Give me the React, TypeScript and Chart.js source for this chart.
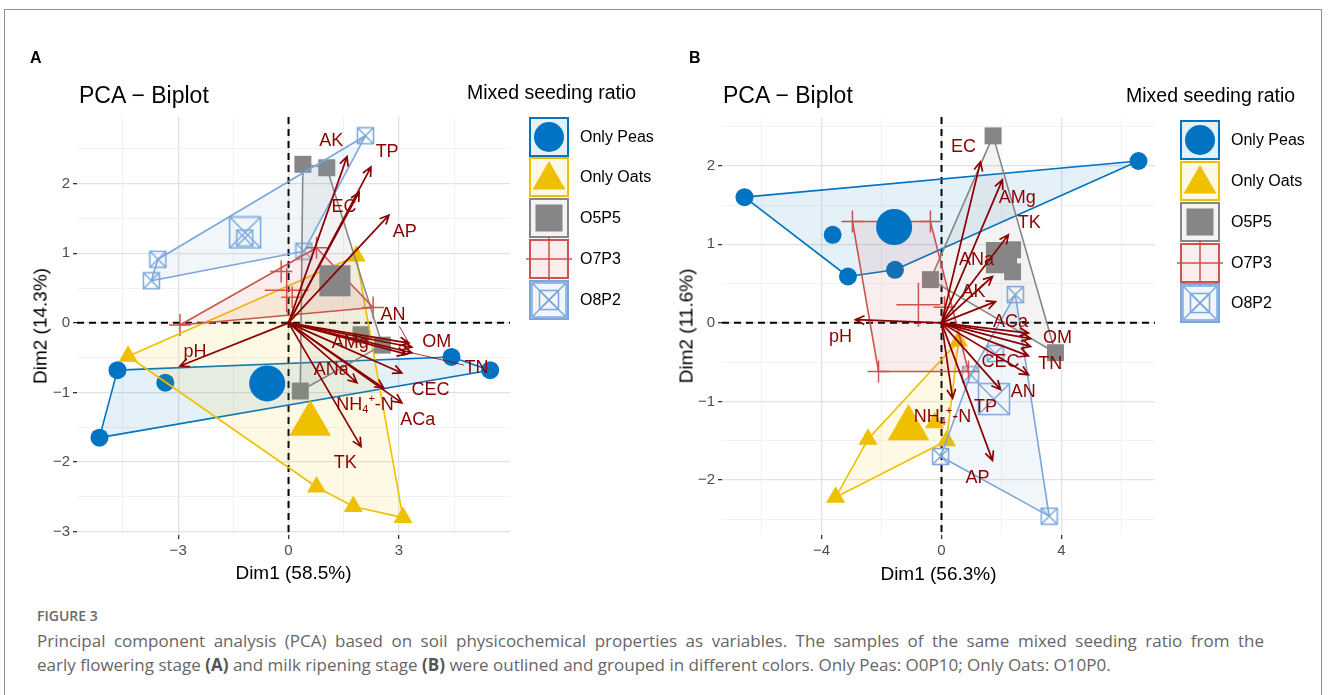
import React, { useEffect, useRef } from "react";
import { Chart, registerables } from "chart.js";

Chart.register(...registerables);

const FONT = "'Liberation Sans', Arial, Helvetica, sans-serif";
const CAPTION_FONT = "'Open Sans', 'Noto Sans', sans-serif";

// ---------- groups ----------
const groupNames = ["Only Peas", "Only Oats", "O5P5", "O7P3", "O8P2"];
const groupColors = ["#0073C2", "#EFC000", "#868686", "#CD534C", "#7AA6DC"];
const groupFills = [
  "rgba(0,115,194,0.10)",
  "rgba(239,192,0,0.10)",
  "rgba(134,134,134,0.10)",
  "rgba(205,83,76,0.10)",
  "rgba(122,166,220,0.10)",
];
const groupShapes = ["circle", "triangle", "rect", "cross", "squareX"];

// ---------- variables ----------
const varNames = ["pH", "AK", "TP", "EC", "AP", "AN", "OM", "TN", "AMg", "CEC", "ANa", "NH4+-N", "ACa", "TK"];

// ---------- Panel A (early flowering stage) ----------
const aPeasX = [-4.65, -5.14, -3.35, 4.43, 5.48];
const aPeasY = [-0.68, -1.65, -0.86, -0.49, -0.68];
const aOatsX = [-4.36, 1.84, 0.76, 1.76, 3.11];
const aOatsY = [-0.48, 0.96, -2.36, -2.64, -2.8];
const aO5P5X = [0.39, 1.04, 0.32, 1.97, 2.55];
const aO5P5Y = [2.28, 2.23, -0.98, -0.17, -0.32];
const aO7P3X = [-2.95, -0.2, 0.76, 2.3, 0.1];
const aO7P3Y = [-0.03, 0.74, 1.08, 0.22, 0.37];
const aO8P2X = [-3.55, -3.73, 0.42, 2.09, -1.19];
const aO8P2Y = [0.915, 0.605, 1.03, 2.69, 1.22];
const aCentX = [-0.58, 0.59, 1.26, -0.05, -1.18];
const aCentY = [-0.87, -1.45, 0.605, 0.47, 1.3];
const aVarX = [-2.95, 1.59, 2.24, 1.92, 2.73, 3.27, 3.35, 3.35, 3.2, 3.08, 1.86, 2.59, 3.08, 1.97];
const aVarY = [-0.62, 2.39, 2.24, 1.88, 1.55, -0.29, -0.35, -0.43, -0.45, -0.72, -0.86, -0.94, -1.15, -1.78];
const aLabX = [-2.54, 1.16, 2.68, 1.51, 3.16, 2.84, 4.03, 5.11, 1.68, 3.86, 1.16, 2.08, 3.51, 1.54];
const aLabY = [-0.42, 2.61, 2.46, 1.66, 1.31, 0.115, -0.27, -0.65, -0.29, -0.965, -0.68, -1.18, -1.4, -2.02];
const aSegments = ["AN", "TN"];
const aXTicks = [-4.5, -3, -1.5, 0, 1.5, 3, 4.5];
const aXMajor = [-3, 0, 3];
const aYTicks = [-3, -2.5, -2, -1.5, -1, -0.5, 0, 0.5, 1, 1.5, 2, 2.5];
const aYMajor = [-3, -2, -1, 0, 1, 2];

// ---------- Panel B (milk ripening stage) ----------
const bPeasX = [-6.57, -3.63, -3.12, -1.55, 6.57];
const bPeasY = [1.6, 1.12, 0.59, 0.675, 2.06];
const bOatsX = [-3.53, -2.45, -0.23, 0.17, 0.57];
const bOatsY = [-2.22, -1.48, -1.27, -1.5, -0.23];
const bO5P5X = [1.72, -0.37, 3.8, 2.37, 2.37];
const bO5P5Y = [2.38, 0.55, -0.38, 0.93, 0.65];
const bO7P3X = [-2.97, -0.37, -2.1, 0.9, 0.1];
const bO7P3Y = [1.29, 1.29, -0.62, -0.62, 0.2];
const bO8P2X = [2.46, 3.59, -0.03, 0.97, 1.79];
const bO8P2Y = [0.36, -2.46, -1.7, -0.66, -0.39];
const bCentX = [-1.58, -1.1, 2.0, -0.77, 1.75];
const bCentY = [1.22, -1.34, 0.83, 0.23, -0.97];
const bVarX = [-2.87, 1.8, 1.97, 1.3, 1.7, 2.9, 2.97, 2.97, 2.03, 2.9, 1.7, 0.37, 2.9, 2.23];
const bVarY = [0.04, 0.27, -0.85, 2.05, -1.75, -0.66, -0.2, -0.3, 1.82, -0.42, 0.59, -0.96, -0.13, 1.12];
const bLabX = [-3.37, 1.07, 1.47, 0.73, 1.2, 2.73, 3.87, 3.63, 2.53, 1.97, 1.17, 0.03, 2.3, 2.93];
const bLabY = [-0.18, 0.39, -1.07, 2.24, -1.97, -0.88, -0.19, -0.53, 1.59, -0.5, 0.8, -1.2, 0.01, 1.27];
const bSegments: string[] = [];
const bXTicks = [-6, -4, -2, 0, 2, 4, 6];
const bXMajor = [-4, 0, 4];
const bYTicks = [-2.5, -2, -1.5, -1, -0.5, 0, 0.5, 1, 1.5, 2, 2.5];
const bYMajor = [-2, -1, 0, 1, 2];

type Panel = {
  left: number;
  yAxisWidth: number;
  padRight: number;
  xMin: number; xMax: number; yMin: number; yMax: number;
  xTicks: number[]; xMajor: number[]; yTicks: number[]; yMajor: number[];
  gx: number[][]; gy: number[][];
  cx: number[]; cy: number[];
  vx: number[]; vy: number[]; lx: number[]; ly: number[];
  segs: string[];
  legendCx: number; legendRows: number[];
};

const panelA: Panel = {
  left: 0, yAxisWidth: 77, padRight: 154,
  xMin: -5.75, xMax: 6.02, yMin: -3.05, yMax: 2.96,
  xTicks: aXTicks, xMajor: aXMajor, yTicks: aYTicks, yMajor: aYMajor,
  gx: [aPeasX, aOatsX, aO5P5X, aO7P3X, aO8P2X],
  gy: [aPeasY, aOatsY, aO5P5Y, aO7P3Y, aO8P2Y],
  cx: aCentX, cy: aCentY,
  vx: aVarX, vy: aVarY, lx: aLabX, ly: aLabY, segs: aSegments,
  legendCx: 549, legendRows: [137, 177, 218, 259, 300],
};

const panelB: Panel = {
  left: 664, yAxisWidth: 58, padRight: 173,
  xMin: -7.32, xMax: 7.12, yMin: -2.7, yMax: 2.62,
  xTicks: bXTicks, xMajor: bXMajor, yTicks: bYTicks, yMajor: bYMajor,
  gx: [bPeasX, bOatsX, bO5P5X, bO7P3X, bO8P2X],
  gy: [bPeasY, bOatsY, bO5P5Y, bO7P3Y, bO8P2Y],
  cx: bCentX, cy: bCentY,
  vx: bVarX, vy: bVarY, lx: bLabX, ly: bLabY, segs: bSegments,
  legendCx: 1200 - 664, legendRows: [140, 181, 222, 263, 303],
};

// ---------- helpers ----------
function fmt(v: number) {
  return v < 0 ? "\u2212" + Math.abs(v) : String(v);
}
function isMajor(list: number[], v: any) {
  return v !== undefined && list.some((m) => Math.abs(m - v) < 1e-9);
}

function squareXImage(size: number, color: string, lw = 1.5) {
  const c = document.createElement("canvas");
  const s = Math.ceil(size + lw * 2);
  c.width = s;
  c.height = s;
  const ctx = c.getContext("2d")!;
  ctx.strokeStyle = color;
  ctx.lineWidth = lw;
  const o = (s - size) / 2;
  ctx.strokeRect(o, o, size, size);
  ctx.beginPath();
  ctx.moveTo(o, o);
  ctx.lineTo(o + size, o + size);
  ctx.moveTo(o + size, o);
  ctx.lineTo(o, o + size);
  ctx.stroke();
  return c;
}

function drawShape(ctx: CanvasRenderingContext2D, shape: string, x: number, y: number, size: number, color: string) {
  ctx.save();
  ctx.fillStyle = color;
  ctx.strokeStyle = color;
  if (shape === "circle") {
    ctx.beginPath();
    ctx.arc(x, y, size / 2, 0, Math.PI * 2);
    ctx.fill();
  } else if (shape === "triangle") {
    const r = size / Math.sqrt(3);
    ctx.beginPath();
    ctx.moveTo(x, y - r);
    ctx.lineTo(x + size / 2, y + r / 2);
    ctx.lineTo(x - size / 2, y + r / 2);
    ctx.closePath();
    ctx.fill();
  } else if (shape === "rect") {
    ctx.fillRect(x - size / 2, y - size / 2, size, size);
  } else if (shape === "cross") {
    ctx.lineWidth = 1.5;
    ctx.beginPath();
    ctx.moveTo(x - size / 2, y);
    ctx.lineTo(x + size / 2, y);
    ctx.moveTo(x, y - size / 2);
    ctx.lineTo(x, y + size / 2);
    ctx.stroke();
  } else {
    ctx.lineWidth = 1.5;
    const h = size / 2;
    ctx.strokeRect(x - h, y - h, size, size);
    ctx.beginPath();
    ctx.moveTo(x - h, y - h);
    ctx.lineTo(x + h, y + h);
    ctx.moveTo(x + h, y - h);
    ctx.lineTo(x - h, y + h);
    ctx.stroke();
  }
  ctx.restore();
}

function convexHull(pts: { x: number; y: number }[]) {
  const p = pts.slice().sort((a, b) => (a.x === b.x ? a.y - b.y : a.x - b.x));
  const cross = (o: any, a: any, b: any) => (a.x - o.x) * (b.y - o.y) - (a.y - o.y) * (b.x - o.x);
  const lower: any[] = [];
  for (const q of p) {
    while (lower.length >= 2 && cross(lower[lower.length - 2], lower[lower.length - 1], q) <= 0) lower.pop();
    lower.push(q);
  }
  const upper: any[] = [];
  for (let i = p.length - 1; i >= 0; i--) {
    const q = p[i];
    while (upper.length >= 2 && cross(upper[upper.length - 2], upper[upper.length - 1], q) <= 0) upper.pop();
    upper.push(q);
  }
  upper.pop();
  lower.pop();
  return lower.concat(upper);
}

const LABEL_SIZE = 18;
function drawVarLabel(ctx: CanvasRenderingContext2D, text: string, x: number, y: number) {
  ctx.save();
  ctx.fillStyle = "#8B0000";
  ctx.textBaseline = "middle";
  const big = `${LABEL_SIZE}px ${FONT}`;
  const small = `${Math.round(LABEL_SIZE * 0.62)}px ${FONT}`;
  if (text === "NH4+-N") {
    ctx.font = big;
    const w1 = ctx.measureText("NH").width;
    const w3 = ctx.measureText("-N").width;
    ctx.font = small;
    const w2 = ctx.measureText("4").width;
    const w2b = ctx.measureText("+").width;
    const total = w1 + w2 + w2b + w3;
    let cx = x - total / 2;
    ctx.textAlign = "left";
    ctx.font = big;
    ctx.fillText("NH", cx, y);
    cx += w1;
    ctx.font = small;
    ctx.fillText("4", cx, y + 5);
    cx += w2;
    ctx.fillText("+", cx, y - 6);
    cx += w2b;
    ctx.font = big;
    ctx.fillText("-N", cx, y);
  } else {
    ctx.textAlign = "center";
    ctx.font = big;
    ctx.fillText(text, x, y);
  }
  ctx.restore();
}

function makePlugin(p: Panel) {
  return {
    id: "biplot",
    beforeDatasetsDraw(chart: any) {
      const { ctx, chartArea: a, scales } = chart;
      const x0 = scales.x.getPixelForValue(0);
      const y0 = scales.y.getPixelForValue(0);
      ctx.save();
      ctx.strokeStyle = "#000";
      ctx.lineWidth = 2;
      ctx.setLineDash([7, 5]);
      ctx.beginPath();
      ctx.moveTo(a.left, y0);
      ctx.lineTo(a.right, y0);
      ctx.moveTo(x0, a.top);
      ctx.lineTo(x0, a.bottom);
      ctx.stroke();
      ctx.restore();
    },
    afterDatasetDraw(chart: any, args: any) {
      if (args.index !== 0) return;
      const { ctx, chartArea: a, scales } = chart;
      ctx.save();
      ctx.beginPath();
      ctx.rect(a.left, a.top, a.right - a.left, a.bottom - a.top);
      ctx.clip();
      p.gx.forEach((xs, g) => {
        const pts = xs.map((x, i) => ({ x: scales.x.getPixelForValue(x), y: scales.y.getPixelForValue(p.gy[g][i]) }));
        const hull = convexHull(pts);
        ctx.beginPath();
        hull.forEach((q: any, i: number) => (i ? ctx.lineTo(q.x, q.y) : ctx.moveTo(q.x, q.y)));
        ctx.closePath();
        ctx.fillStyle = groupFills[g];
        ctx.fill();
        ctx.strokeStyle = groupColors[g];
        ctx.lineWidth = 1.6;
        ctx.lineJoin = "round";
        ctx.stroke();
      });
      ctx.restore();
    },
    afterDatasetsDraw(chart: any) {
      const { ctx, scales } = chart;
      const ox = scales.x.getPixelForValue(0);
      const oy = scales.y.getPixelForValue(0);
      ctx.save();
      ctx.strokeStyle = "#8B0000";
      ctx.lineWidth = 1.7;
      ctx.lineCap = "butt";
      p.vx.forEach((vx, i) => {
        const tx = scales.x.getPixelForValue(vx);
        const ty = scales.y.getPixelForValue(p.vy[i]);
        const ang = Math.atan2(ty - oy, tx - ox);
        const L = 10;
        const da = 0.45;
        ctx.beginPath();
        ctx.moveTo(ox, oy);
        ctx.lineTo(tx, ty);
        ctx.moveTo(tx - L * Math.cos(ang - da), ty - L * Math.sin(ang - da));
        ctx.lineTo(tx, ty);
        ctx.lineTo(tx - L * Math.cos(ang + da), ty - L * Math.sin(ang + da));
        ctx.stroke();
      });
      // label segments
      ctx.lineWidth = 0.8;
      p.vx.forEach((vx, i) => {
        if (!p.segs.includes(varNames[i])) return;
        const tx = scales.x.getPixelForValue(vx);
        const ty = scales.y.getPixelForValue(p.vy[i]);
        const lxp = scales.x.getPixelForValue(p.lx[i]);
        const lyp = scales.y.getPixelForValue(p.ly[i]);
        const d = Math.hypot(lxp - tx, lyp - ty);
        const r = 13;
        if (d <= r + 3) return;
        const ex = tx + ((lxp - tx) * (d - r)) / d;
        const ey = ty + ((lyp - ty) * (d - r)) / d;
        ctx.beginPath();
        ctx.moveTo(tx, ty);
        ctx.lineTo(ex, ey);
        ctx.stroke();
      });
      ctx.restore();
      p.lx.forEach((lx, i) => {
        drawVarLabel(ctx, varNames[i], scales.x.getPixelForValue(lx), scales.y.getPixelForValue(p.ly[i]));
      });
    },
    afterDraw(chart: any) {
      const { ctx } = chart;
      const cx = p.legendCx;
      p.legendRows.forEach((cy, g) => {
        ctx.save();
        ctx.fillStyle = groupFills[g];
        ctx.fillRect(cx - 19, cy - 19, 38, 38);
        ctx.strokeStyle = groupColors[g];
        ctx.lineWidth = 2;
        ctx.strokeRect(cx - 19, cy - 19, 38, 38);
        ctx.restore();
        const shape = groupShapes[g];
        if (shape === "circle") drawShape(ctx, shape, cx, cy, 30, groupColors[g]);
        else if (shape === "triangle") drawShape(ctx, shape, cx, cy + 3, 33, groupColors[g]);
        else if (shape === "rect") drawShape(ctx, shape, cx, cy, 27, groupColors[g]);
        else if (shape === "cross") drawShape(ctx, shape, cx, cy, 46, groupColors[g]);
        else {
          drawShape(ctx, shape, cx, cy, 34, groupColors[g]);
          drawShape(ctx, shape, cx, cy, 19, groupColors[g]);
        }
      });
    },
  };
}

function buildConfig(p: Panel): any {
  const smallR = [9, 11, 12, 11, 9];
  const bigR = [18, 24, 22, 22, 17];
  const smallImg = squareXImage(16, groupColors[4]);
  const bigImg = squareXImage(31, groupColors[4]);
  const datasets: any[] = [];
  p.gx.forEach((xs, g) => {
    datasets.push({
      type: "scatter",
      label: groupNames[g],
      data: xs.map((x, i) => ({ x, y: p.gy[g][i] })),
      pointStyle: g === 4 ? smallImg : groupShapes[g],
      pointRadius: smallR[g],
      backgroundColor: g === 3 ? "rgba(0,0,0,0)" : groupColors[g],
      borderColor: groupColors[g],
      borderWidth: g === 3 ? 1.5 : 0,
      order: 2,
    });
  });
  p.cx.forEach((x, g) => {
    datasets.push({
      type: "scatter",
      label: groupNames[g] + " mean",
      data: [{ x, y: p.cy[g] }],
      pointStyle: g === 4 ? bigImg : groupShapes[g],
      pointRadius: bigR[g],
      backgroundColor: g === 3 ? "rgba(0,0,0,0)" : groupColors[g],
      borderColor: groupColors[g],
      borderWidth: g === 3 ? 1.5 : 0,
      order: 1,
    });
  });

  const tickFont = { family: FONT, size: 15 };
  const gridOpts = (major: number[]) => ({
    color: (c: any) => (isMajor(major, c.tick?.value) ? "#e2e2e2" : "#efefef"),
    lineWidth: (c: any) => (isMajor(major, c.tick?.value) ? 1.3 : 0.8),
    tickColor: (c: any) => (isMajor(major, c.tick?.value) ? "#333333" : "rgba(0,0,0,0)"),
    tickLength: 4,
    tickWidth: 1.3,
    drawTicks: true,
  });

  return {
    type: "scatter",
    data: { datasets },
    plugins: [makePlugin(p)],
    options: {
      responsive: false,
      animation: false,
      events: [],
      layout: { padding: { left: 0, top: 117, right: p.padRight, bottom: 0 } },
      plugins: { legend: { display: false }, tooltip: { enabled: false }, title: { display: false } },
      scales: {
        x: {
          type: "linear",
          min: p.xMin,
          max: p.xMax,
          afterBuildTicks: (s: any) => {
            s.ticks = p.xTicks.map((v) => ({ value: v }));
          },
          afterFit: (s: any) => {
            s.height = 65;
          },
          grid: gridOpts(p.xMajor),
          border: { display: false },
          ticks: {
            autoSkip: false,
            maxRotation: 0,
            padding: 3,
            color: "#4d4d4d",
            font: tickFont,
            callback: (v: any) => (isMajor(p.xMajor, v) ? fmt(v) : ""),
          },
        },
        y: {
          type: "linear",
          min: p.yMin,
          max: p.yMax,
          afterBuildTicks: (s: any) => {
            s.ticks = p.yTicks.map((v) => ({ value: v }));
          },
          afterFit: (s: any) => {
            s.width = p.yAxisWidth;
          },
          grid: gridOpts(p.yMajor),
          border: { display: false },
          ticks: {
            autoSkip: false,
            padding: 3,
            color: "#4d4d4d",
            font: tickFont,
            callback: (v: any) => (isMajor(p.yMajor, v) ? fmt(v) : ""),
          },
        },
      },
    },
  };
}

function PanelChart({ panel }: { panel: Panel }) {
  const ref = useRef<HTMLCanvasElement>(null);
  useEffect(() => {
    const chart = new Chart(ref.current!, buildConfig(panel));
    return () => chart.destroy();
  }, [panel]);
  return (
    <canvas
      ref={ref}
      width={664}
      height={600}
      style={{ position: "absolute", left: panel.left, top: 0, width: 664, height: 600 }}
    />
  );
}

function Txt(props: {
  x: number;
  y: number;
  size: number;
  children: React.ReactNode;
  bold?: boolean;
  weight?: number;
  color?: string;
  center?: boolean;
  rotate?: boolean;
  family?: string;
  justifyWidth?: number;
}) {
  const { x, y, size, children, bold, weight, color, center, rotate, family, justifyWidth } = props;
  const style: React.CSSProperties = {
    position: "absolute",
    left: x,
    top: y,
    fontSize: size,
    lineHeight: 1,
    fontFamily: family || FONT,
    fontWeight: weight || (bold ? 700 : 400),
    color: color || "#000",
    whiteSpace: "nowrap",
  };
  if (justifyWidth) {
    style.width = justifyWidth;
    style.whiteSpace = "normal";
    style.textAlign = "justify";
    style.textAlignLast = "justify";
  }
  if (rotate) style.transform = "translate(-50%, -50%) rotate(-90deg)";
  else if (center) style.transform = "translate(-50%, -50%)";
  else style.transform = "translate(0, -50%)";
  return <div style={style}>{children}</div>;
}

export default function App() {
  const legendLabelRowsA = panelA.legendRows;
  const legendLabelRowsB = panelB.legendRows;
  return (
    <div
      style={{
        position: "absolute",
        left: 0,
        top: 0,
        width: 1328,
        height: 695,
        background: "#fff",
        overflow: "hidden",
      }}
    >
      <div
        style={{
          position: "absolute",
          left: 4,
          top: 9,
          width: 1318,
          height: 720,
          border: "1.5px solid #8f8f8f",
          boxSizing: "border-box",
        }}
      />
      <PanelChart panel={panelA} />
      <PanelChart panel={panelB} />

      <Txt x={30} y={58} size={16} bold>A</Txt>
      <Txt x={689} y={58} size={16} bold>B</Txt>
      <Txt x={79} y={95} size={23}>PCA − Biplot</Txt>
      <Txt x={723} y={95} size={23}>PCA − Biplot</Txt>
      <Txt x={467} y={93} size={19.5}>Mixed seeding ratio</Txt>
      <Txt x={1126} y={96} size={19.5}>Mixed seeding ratio</Txt>

      {groupNames.map((n, i) => (
        <Txt key={"la" + i} x={580} y={legendLabelRowsA[i]} size={16}>
          {n}
        </Txt>
      ))}
      {groupNames.map((n, i) => (
        <Txt key={"lb" + i} x={1231} y={legendLabelRowsB[i]} size={16}>
          {n}
        </Txt>
      ))}

      <Txt x={293.5} y={572} size={19} center>Dim1 (58.5%)</Txt>
      <Txt x={938.5} y={573} size={19} center>Dim1 (56.3%)</Txt>
      <Txt x={40} y={326} size={19} rotate>Dim2 (14.3%)</Txt>
      <Txt x={686} y={326} size={19} rotate>Dim2 (11.6%)</Txt>

      <Txt x={37} y={616} size={14} family={CAPTION_FONT} color="#6a6a6a" weight={600}>
        FIGURE 3
      </Txt>
      <Txt x={37} y={640} size={17} family={CAPTION_FONT} color="#666" justifyWidth={1227}>
        Principal component analysis (PCA) based on soil physicochemical properties as variables. The samples of the same mixed seeding ratio from the
      </Txt>
      <Txt x={37} y={664} size={17} family={CAPTION_FONT} color="#666">
        early flowering stage <b style={{ color: "#555" }}>(A)</b> and milk ripening stage <b style={{ color: "#555" }}>(B)</b> were outlined and grouped in different colors. Only Peas: O0P10; Only Oats: O10P0.
      </Txt>
    </div>
  );
}
